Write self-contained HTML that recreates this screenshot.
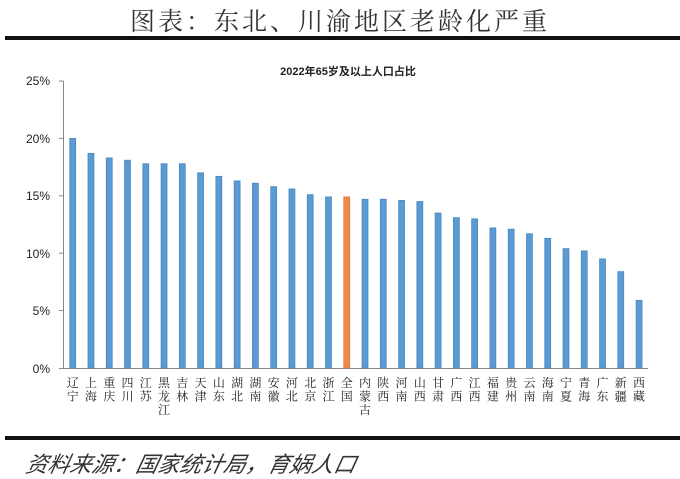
<!DOCTYPE html>
<html><head><meta charset="utf-8"><style>
body{margin:0;background:#fff;width:680px;height:479px;overflow:hidden}
svg{display:block}
</style></head><body>
<svg width="680" height="479" xmlns="http://www.w3.org/2000/svg" font-family="Liberation Sans, Noto Sans CJK SC, sans-serif">
<text x="340" y="30" text-anchor="middle" font-size="25" fill="#333" font-family="Noto Serif CJK SC, serif" letter-spacing="3">图表：东北、川渝地区老龄化严重</text>
<rect x="5" y="36" width="675" height="4" fill="#111"/>
<text x="348" y="75" text-anchor="middle" font-size="11" fill="#222" font-weight="bold">2022年65岁及以上人口占比</text>
<g font-size="12" fill="#222" text-anchor="end">
<text x="50" y="85">25%</text><text x="50" y="143">20%</text><text x="50" y="200">15%</text><text x="50" y="258">10%</text><text x="50" y="315">5%</text><text x="50" y="373">0%</text>
</g>
<g stroke="#888" stroke-width="1">
<line x1="63.5" y1="81" x2="63.5" y2="368"/>
<line x1="59" y1="81" x2="63.5" y2="81"/><line x1="59" y1="138.4" x2="63.5" y2="138.4"/><line x1="59" y1="195.8" x2="63.5" y2="195.8"/><line x1="59" y1="253.2" x2="63.5" y2="253.2"/><line x1="59" y1="310.6" x2="63.5" y2="310.6"/>
<line x1="59" y1="368.5" x2="648" y2="368.5"/>
</g>
<g fill="#5b9bd5" stroke="#4a82b8" stroke-width="0.7">
<rect x="69.7" y="138.4" width="6" height="229.6"/>
<rect x="87.97" y="153.3" width="6" height="214.7"/>
<rect x="106.24" y="157.9" width="6" height="210.1"/>
<rect x="124.51" y="160.2" width="6" height="207.8"/>
<rect x="142.78" y="163.7" width="6" height="204.3"/>
<rect x="161.05" y="163.7" width="6" height="204.3"/>
<rect x="179.32" y="163.7" width="6" height="204.3"/>
<rect x="197.59" y="172.8" width="6" height="195.2"/>
<rect x="215.86" y="176.3" width="6" height="191.7"/>
<rect x="234.13" y="180.9" width="6" height="187.1"/>
<rect x="252.4" y="183.2" width="6" height="184.8"/>
<rect x="270.67" y="186.6" width="6" height="181.4"/>
<rect x="288.94" y="188.9" width="6" height="179.1"/>
<rect x="307.21" y="194.7" width="6" height="173.3"/>
<rect x="325.48" y="196.9" width="6" height="171.1"/>
<rect x="343.75" y="196.9" width="6" height="171.1" fill="#f08a4b" stroke="#d9733a"/>
<rect x="362.02" y="199.2" width="6" height="168.8"/>
<rect x="380.29" y="199.2" width="6" height="168.8"/>
<rect x="398.56" y="200.4" width="6" height="167.6"/>
<rect x="416.83" y="201.5" width="6" height="166.5"/>
<rect x="435.1" y="213" width="6" height="155"/>
<rect x="453.37" y="217.6" width="6" height="150.4"/>
<rect x="471.64" y="218.8" width="6" height="149.2"/>
<rect x="489.91" y="227.9" width="6" height="140.1"/>
<rect x="508.18" y="229.1" width="6" height="138.9"/>
<rect x="526.45" y="233.7" width="6" height="134.3"/>
<rect x="544.72" y="238.3" width="6" height="129.7"/>
<rect x="562.99" y="248.6" width="6" height="119.4"/>
<rect x="581.26" y="250.9" width="6" height="117.1"/>
<rect x="599.53" y="258.9" width="6" height="109.1"/>
<rect x="617.8" y="271.6" width="6" height="96.4"/>
<rect x="636.07" y="300.3" width="6" height="67.7"/>
</g>
<g font-size="12" fill="#222" text-anchor="middle" font-family="Noto Serif CJK SC, serif">
<text y="387"><tspan x="72.7">辽</tspan><tspan x="72.7" dy="13.5">宁</tspan></text>
<text y="387"><tspan x="90.97">上</tspan><tspan x="90.97" dy="13.5">海</tspan></text>
<text y="387"><tspan x="109.24">重</tspan><tspan x="109.24" dy="13.5">庆</tspan></text>
<text y="387"><tspan x="127.51">四</tspan><tspan x="127.51" dy="13.5">川</tspan></text>
<text y="387"><tspan x="145.78">江</tspan><tspan x="145.78" dy="13.5">苏</tspan></text>
<text y="387"><tspan x="164.05">黑</tspan><tspan x="164.05" dy="13.5">龙</tspan><tspan x="164.05" dy="13.5">江</tspan></text>
<text y="387"><tspan x="182.32">吉</tspan><tspan x="182.32" dy="13.5">林</tspan></text>
<text y="387"><tspan x="200.59">天</tspan><tspan x="200.59" dy="13.5">津</tspan></text>
<text y="387"><tspan x="218.86">山</tspan><tspan x="218.86" dy="13.5">东</tspan></text>
<text y="387"><tspan x="237.13">湖</tspan><tspan x="237.13" dy="13.5">北</tspan></text>
<text y="387"><tspan x="255.4">湖</tspan><tspan x="255.4" dy="13.5">南</tspan></text>
<text y="387"><tspan x="273.67">安</tspan><tspan x="273.67" dy="13.5">徽</tspan></text>
<text y="387"><tspan x="291.94">河</tspan><tspan x="291.94" dy="13.5">北</tspan></text>
<text y="387"><tspan x="310.21">北</tspan><tspan x="310.21" dy="13.5">京</tspan></text>
<text y="387"><tspan x="328.48">浙</tspan><tspan x="328.48" dy="13.5">江</tspan></text>
<text y="387"><tspan x="346.75">全</tspan><tspan x="346.75" dy="13.5">国</tspan></text>
<text y="387"><tspan x="365.02">内</tspan><tspan x="365.02" dy="13.5">蒙</tspan><tspan x="365.02" dy="13.5">古</tspan></text>
<text y="387"><tspan x="383.29">陕</tspan><tspan x="383.29" dy="13.5">西</tspan></text>
<text y="387"><tspan x="401.56">河</tspan><tspan x="401.56" dy="13.5">南</tspan></text>
<text y="387"><tspan x="419.83">山</tspan><tspan x="419.83" dy="13.5">西</tspan></text>
<text y="387"><tspan x="438.1">甘</tspan><tspan x="438.1" dy="13.5">肃</tspan></text>
<text y="387"><tspan x="456.37">广</tspan><tspan x="456.37" dy="13.5">西</tspan></text>
<text y="387"><tspan x="474.64">江</tspan><tspan x="474.64" dy="13.5">西</tspan></text>
<text y="387"><tspan x="492.91">福</tspan><tspan x="492.91" dy="13.5">建</tspan></text>
<text y="387"><tspan x="511.18">贵</tspan><tspan x="511.18" dy="13.5">州</tspan></text>
<text y="387"><tspan x="529.45">云</tspan><tspan x="529.45" dy="13.5">南</tspan></text>
<text y="387"><tspan x="547.72">海</tspan><tspan x="547.72" dy="13.5">南</tspan></text>
<text y="387"><tspan x="565.99">宁</tspan><tspan x="565.99" dy="13.5">夏</tspan></text>
<text y="387"><tspan x="584.26">青</tspan><tspan x="584.26" dy="13.5">海</tspan></text>
<text y="387"><tspan x="602.53">广</tspan><tspan x="602.53" dy="13.5">东</tspan></text>
<text y="387"><tspan x="620.8">新</tspan><tspan x="620.8" dy="13.5">疆</tspan></text>
<text y="387"><tspan x="639.07">西</tspan><tspan x="639.07" dy="13.5">藏</tspan></text>
</g>
<rect x="5" y="436" width="675" height="4" fill="#111"/>
<text x="25" y="472" font-size="22" fill="#333" font-style="italic" font-family="Noto Sans CJK SC, sans-serif" transform="skewX(-12) translate(100,0)">资料来源：国家统计局，育娲人口</text>
</svg>
</body></html>
